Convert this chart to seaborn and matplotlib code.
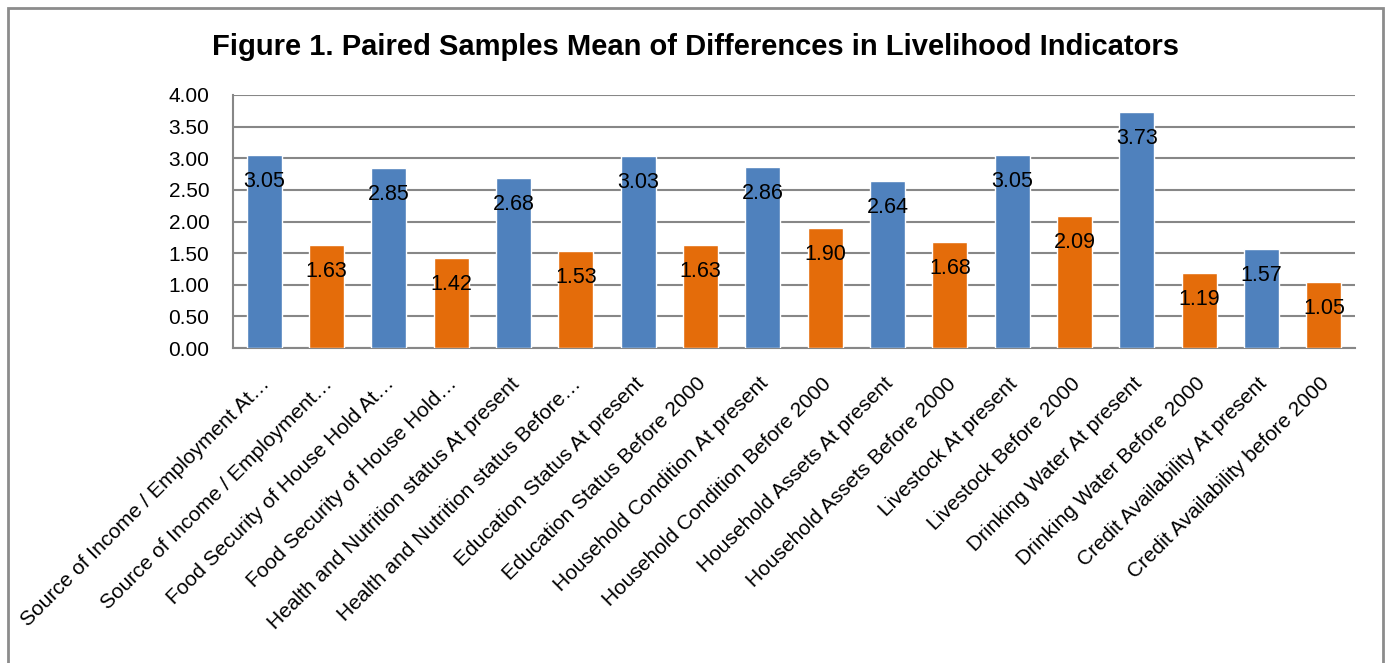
import matplotlib
matplotlib.use("Agg")
import matplotlib.pyplot as plt
import matplotlib.transforms as mtransforms
from matplotlib.patches import Rectangle
from matplotlib.ticker import FormatStrFormatter
import pandas as pd
import seaborn as sns

categories = [
    "Source of Income / Employment At…",
    "Source of Income / Employment…",
    "Food Security of House Hold At…",
    "Food Security of House Hold…",
    "Health and Nutrition status At present",
    "Health and Nutrition status Before…",
    "Education Status At present",
    "Education Status Before 2000",
    "Household Condition At present",
    "Household Condition Before 2000",
    "Household Assets At present",
    "Household Assets Before 2000",
    "Livestock At present",
    "Livestock Before 2000",
    "Drinking Water At present",
    "Drinking Water Before 2000",
    "Credit Availability At present",
    "Credit Availability before 2000",
]
means = [3.05, 1.63, 2.85, 1.42, 2.68, 1.53, 3.03, 1.63, 2.86, 1.90,
         2.64, 1.68, 3.05, 2.09, 3.73, 1.19, 1.57, 1.05]
periods = ["At present", "Before 2000"] * 9
period_colors = {"At present": "#4F81BD", "Before 2000": "#E46C0A"}
y_ticks = [0.0, 0.5, 1.0, 1.5, 2.0, 2.5, 3.0, 3.5, 4.0]

df = pd.DataFrame({"indicator": categories, "mean": means, "period": periods})

sns.set_theme(style="white")
plt.rcParams["font.family"] = ["Liberation Sans", "DejaVu Sans"]

fig = plt.figure(figsize=(13.89, 6.63), dpi=100)
ax = fig.add_axes([233 / 1389, 1 - 348 / 663, (1355 - 233) / 1389, (348 - 95) / 663])

sns.barplot(data=df, x="indicator", y="mean", hue="period", palette=period_colors,
            order=categories, dodge=False, width=0.56, saturation=1, legend=False,
            ax=ax, zorder=3)

# value labels just inside the top of each bar
for container in ax.containers:
    for bar in container:
        h = bar.get_height()
        ax.annotate(f"{h:.2f}", xy=(bar.get_x() + bar.get_width() / 2, h),
                    xytext=(0, -23), textcoords="offset points",
                    ha="center", va="baseline", fontsize=15.5, color="black", zorder=4)

ax.set_ylim(0, 4)
ax.set_yticks(y_ticks)
ax.yaxis.set_major_formatter(FormatStrFormatter("%.2f"))
ax.set_xlim(-0.5, len(categories) - 0.5)
ax.grid(axis="y", color="#878787", linewidth=1.5, zorder=0)
ax.set_axisbelow(True)
ax.set_xlabel("")
ax.set_ylabel("")

for side in ["top", "right"]:
    ax.spines[side].set_visible(False)
for side in ["left", "bottom"]:
    ax.spines[side].set_color("#878787")
    ax.spines[side].set_linewidth(1.5)

ax.tick_params(axis="y", length=0, pad=17, labelsize=15, labelcolor="black")
ax.tick_params(axis="x", length=0, pad=13)
ax.set_xticks(range(len(categories)))
ax.set_xticklabels(categories, rotation=45, ha="right", va="top",
                   rotation_mode="anchor", fontsize=15, color="black")

# nudge the slanted category labels down-left
shift = mtransforms.ScaledTranslation(-0.04, -0.08, fig.dpi_scale_trans)
for lbl in ax.get_xticklabels():
    lbl.set_transform(lbl.get_transform() + shift)

fig.text(0.501, 1 - 55 / 663, "Figure 1. Paired Samples Mean of Differences in Livelihood Indicators",
         ha="center", va="baseline", fontsize=21, fontweight="bold", color="black")

# outer chart border
fig.patches.append(Rectangle((8 / 1389, -0.05), (1383 - 8) / 1389, 1.05 - 8 / 663,
                             transform=fig.transFigure, fill=False,
                             edgecolor="#8C8C8C", linewidth=2))

fig.savefig("out.png", dpi=100)
